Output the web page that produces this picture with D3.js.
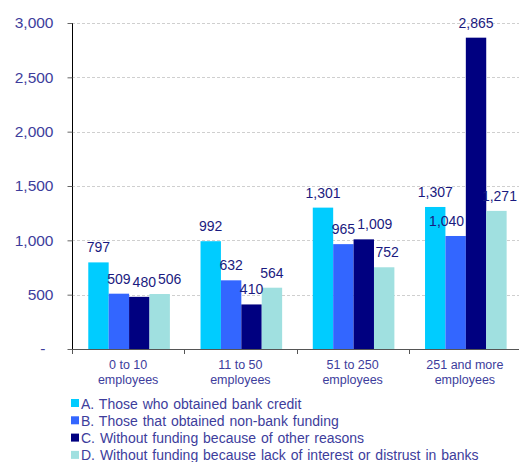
<!DOCTYPE html>
<html>
<head>
<meta charset="utf-8">
<script src="https://cdn.jsdelivr.net/npm/d3@7"></script>
<style>
  html, body { margin: 0; padding: 0; background: #fff; }
  svg { display: block; font-family: "Liberation Sans", Arial, sans-serif; }
</style>
</head>
<body>
<svg id="chart" width="519" height="462"></svg>
<script>
// Firm-size groups (two-line labels)
const categories = [
  ["0 to 10", "employees"],
  ["11 to 50", "employees"],
  ["51 to 250", "employees"],
  ["251 and more", "employees"]
];
const seriesNames = [
  "A. Those who obtained bank credit",
  "B. Those that obtained non-bank funding",
  "C. Without funding because of other reasons",
  "D. Without funding because lack of interest or distrust in banks"
];
const seriesA = [797, 992, 1301, 1307];
const seriesB = [509, 632, 965, 1040];
const seriesC = [480, 410, 1009, 2865];
const seriesD = [506, 564, 752, 1271];
const yTicks = [0, 500, 1000, 1500, 2000, 2500, 3000];
const colors = ["#00CCFF", "#3366FF", "#000080", "#A0E0E0"];

const allSeries = [seriesA, seriesB, seriesC, seriesD];
const svg = d3.select("#chart");
const W = 519;
const plotLeft = 72, plotRight = 521, plotTop = 23, plotBottom = 349;
const textBlue = "#3d3d9c";

const x0 = d3.scaleBand().domain(d3.range(categories.length)).range([plotLeft, plotRight]);
const bw = x0.bandwidth();
const x1 = d3.scaleBand().domain(d3.range(allSeries.length)).range([bw * 0.145, bw * 0.872]);
const y = d3.scaleLinear().domain([0, 3000]).range([plotBottom, plotTop]);

// dashed horizontal gridlines
svg.append("g").selectAll("line").data(yTicks.filter(d => d > 0)).join("line")
  .attr("x1", plotLeft).attr("x2", W)
  .attr("y1", d => Math.round(y(d)) + 0.5).attr("y2", d => Math.round(y(d)) + 0.5)
  .attr("stroke", "#cfcfcf").attr("stroke-dasharray", "3,2").attr("stroke-width", 1);

// y axis
const yAxis = svg.append("g").attr("transform", `translate(${plotLeft + 0.5},0)`)
  .call(d3.axisLeft(y).tickValues(yTicks).tickSize(5).tickPadding(14)
    .tickFormat(d => d === 0 ? "-" : d3.format(",")(d)));
yAxis.select(".domain").attr("stroke", "#000").attr("d", `M0,${plotTop}V${plotBottom}`);
yAxis.selectAll(".tick line").attr("stroke", "#666");
yAxis.selectAll(".tick text").attr("fill", textBlue).attr("font-size", 15.5)
  .attr("font-family", "Liberation Sans, Arial, sans-serif");
yAxis.selectAll(".tick text").filter(d => d === 0).attr("dx", -8);

// bars
const bars = [];
categories.forEach((c, i) => allSeries.forEach((s, k) => {
  const bx = x0(i) + x1(k);
  bars.push({ i, k, v: s[i], x: bx, w: x1.bandwidth(), y: y(s[i]), h: y(0) - y(s[i]) });
}));
svg.append("g").selectAll("rect").data(bars).join("rect")
  .attr("x", d => d.x).attr("width", d => d.w)
  .attr("y", d => d.y).attr("height", d => d.h)
  .attr("fill", d => colors[d.k]);

// value labels: placed above each bar, nudged to keep clear of
// neighbouring labels, of the dark bars and of the page edge
const labelG = svg.append("g");
const placed = [];
function overlap(a, b) {
  const ox = Math.min(a.x2, b.x2) - Math.max(a.x1, b.x1);
  const oy = Math.min(a.y2, b.y2) - Math.max(a.y1, b.y1);
  return ox > 0 && oy > 0 ? ox * oy : 0;
}
bars.forEach(b => {
  const t = labelG.append("text")
    .attr("text-anchor", "middle")
    .attr("font-size", 14).attr("fill", "#1a1a80")
    .text(d3.format(",")(b.v));
  const w = t.node().getComputedTextLength();
  const cx = b.x + b.w / 2, base = b.y - 10;
  let best = null;
  for (let dy = 0; dy >= -12; dy -= 1) {
    for (let dx = -16; dx <= 16; dx += 1) {
      const box = { x1: cx + dx - w / 2 - 1, x2: cx + dx + w / 2 + 1, y1: base + dy - 11, y2: base + dy + 1 };
      let cost = 0.4 * Math.abs(dx) + 0.8 * Math.abs(dy);
      placed.forEach(p => { cost += 1000 * overlap(box, p); });
      if (box.x2 > W - 1) cost += 1000 * (box.x2 - W + 1);
      bars.forEach(o => {
        if (o === b || o.k !== 2) return;
        const r = { x1: o.x, x2: o.x + o.w, y1: o.y, y2: o.y + o.h };
        cost += 3 * overlap(box, r);
      });
      if (!best || cost < best.cost) best = { cost, dx, dy, box };
    }
  }
  placed.push(best.box);
  t.attr("x", cx + best.dx).attr("y", base + best.dy);
});

// x axis
const xg = svg.append("g");
xg.append("line").attr("x1", plotLeft).attr("x2", W)
  .attr("y1", plotBottom + 0.5).attr("y2", plotBottom + 0.5).attr("stroke", "#555");
xg.selectAll("line.tk").data(d3.range(categories.length + 1)).join("line").attr("class", "tk")
  .attr("x1", i => Math.round(plotLeft + i * bw) + 0.5).attr("x2", i => Math.round(plotLeft + i * bw) + 0.5)
  .attr("y1", plotBottom).attr("y2", plotBottom + 5).attr("stroke", "#555");
const catText = xg.selectAll("text").data(categories).join("text")
  .attr("text-anchor", "middle").attr("font-size", 12.5).attr("fill", textBlue);
catText.append("tspan").attr("x", (c, i) => x0(i) + bw / 2).attr("y", 369).text(c => c[0]);
catText.append("tspan").attr("x", (c, i) => x0(i) + bw / 2).attr("y", 383.5).text(c => c[1]);

// legend
const lg = svg.append("g").selectAll("g").data(seriesNames).join("g")
  .attr("transform", (d, i) => `translate(71,${399 + i * 17.3})`);
lg.append("rect").attr("width", 8).attr("height", 8).attr("fill", (d, i) => colors[i]);
lg.append("text").attr("x", 10).attr("y", 9.5).attr("font-size", 14)
  .attr("word-spacing", 1).attr("fill", textBlue).text(d => d);
</script>
</body>
</html>
